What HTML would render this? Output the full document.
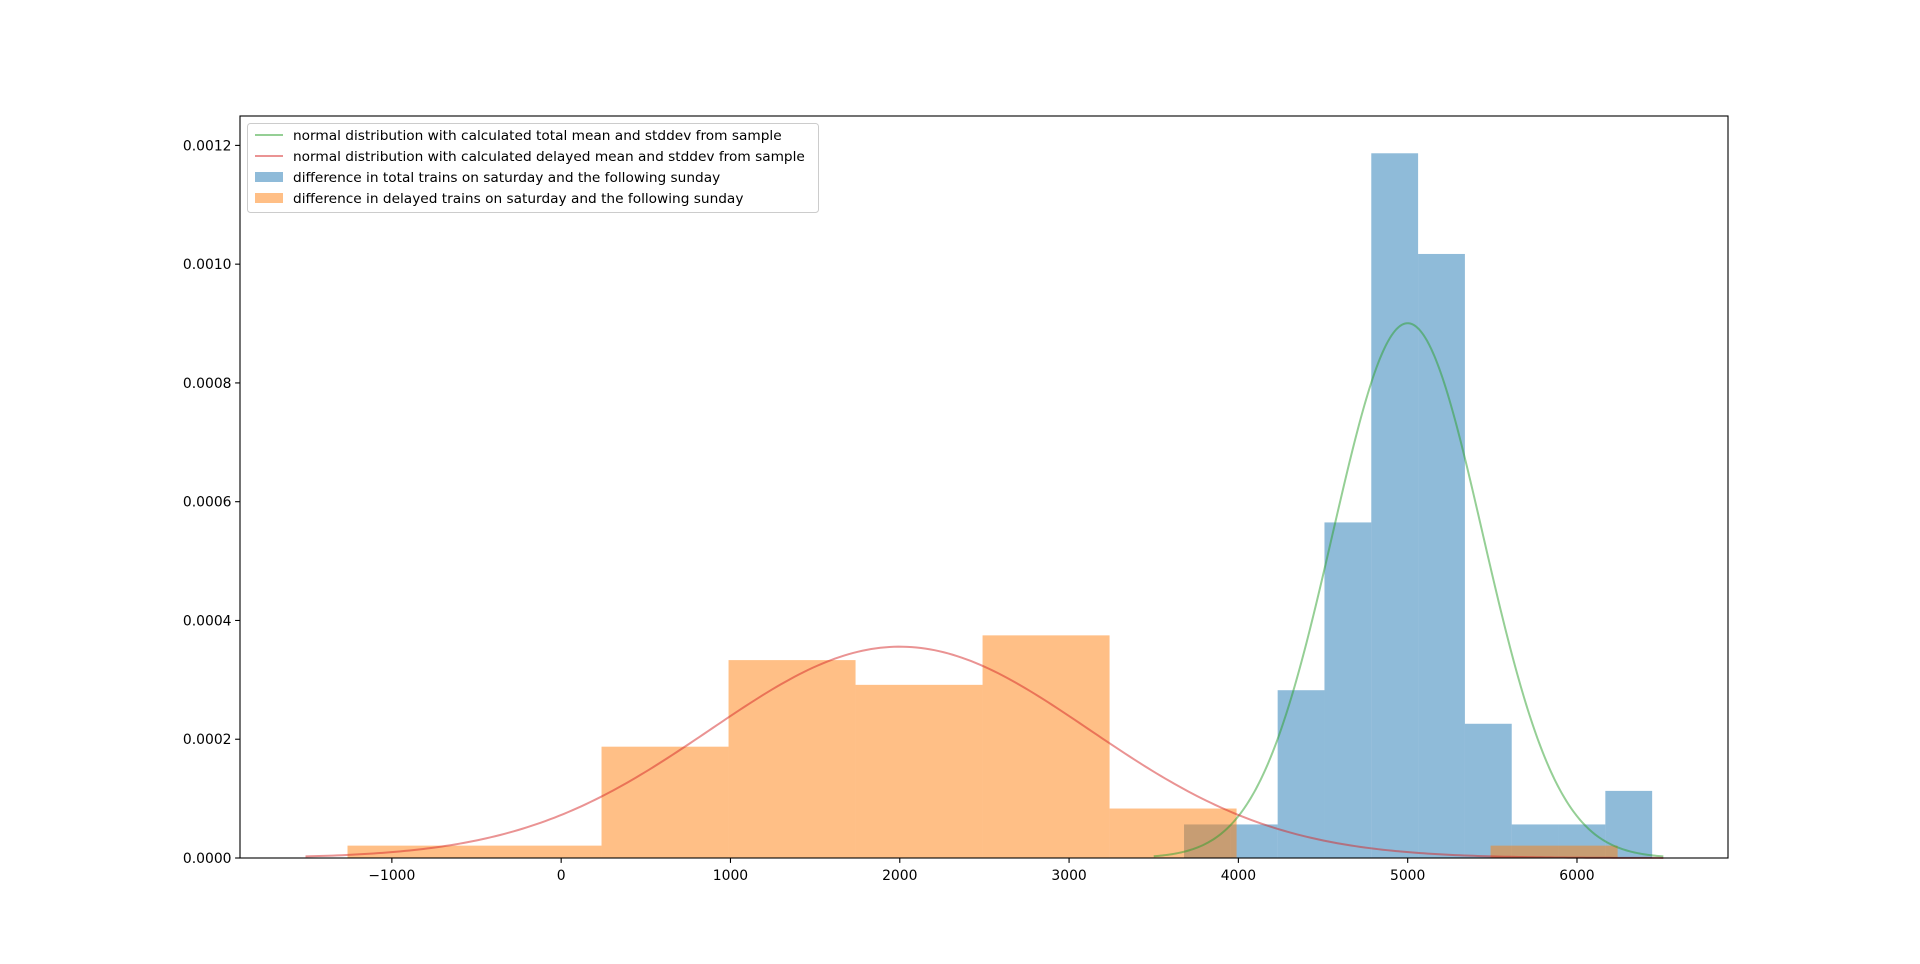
<!DOCTYPE html>
<html><head><meta charset="utf-8"><style>
html,body{margin:0;padding:0;background:#fff;}
svg{display:block;font-family:"DejaVu Sans","Liberation Sans",sans-serif;}
</style></head><body>
<svg id="chart" width="1920" height="964" viewBox="0 0 1920 964" xmlns="http://www.w3.org/2000/svg">
<rect x="0" y="0" width="1920" height="964" fill="#fff"/>
<g id="plot"></g>
</svg>
<script>
const totalBinStart = 3679;
const totalBinWidth = 276.5;
const totalCounts = [1,1,5,10,21,18,4,1,1,2];
const delayedBinStart = -1262;
const delayedBinWidth = 750.2;
const delayedCounts = [1,1,9,16,14,18,4,0,0,1];
const sampleSize = [64];
const totalNormal = [5000, 443];      // mean, stddev
const delayedNormal = [2000, 1121];
const totalCurveRange = [3500, 6510];
const delayedCurveRange = [-1510, 6510];
const xTicks = [-1000,0,1000,2000,3000,4000,5000,6000];
const xTickLabels = ["\u22121000","0","1000","2000","3000","4000","5000","6000"];
const yTicks = [0,0.0002,0.0004,0.0006,0.0008,0.0010,0.0012];
const yTickLabels = ["0.0000","0.0002","0.0004","0.0006","0.0008","0.0010","0.0012"];
const legendLabels = ["normal distribution with calculated total mean and stddev from sample",
"normal distribution with calculated delayed mean and stddev from sample",
"difference in total trains on saturday and the following sunday",
"difference in delayed trains on saturday and the following sunday"];

const L=240,R=1728,T=116,B=858;
const xMin=-1897,xMax=6892,yMin=0,yMax=0.0012495;
const sx=v=>L+(v-xMin)/(xMax-xMin)*(R-L);
const sy=v=>B-(v-yMin)/(yMax-yMin)*(B-T);
const NS="http://www.w3.org/2000/svg";
const g=document.getElementById('plot');
function mk(tag,attrs,parent){const e=document.createElementNS(NS,tag);for(const k in attrs)e.setAttribute(k,attrs[k]);(parent||g).appendChild(e);return e;}

function hist(start,w,counts,color,name){
  const n=sampleSize[0];
  counts.forEach((c,i)=>{
    if(c===0)return;
    const h=c/(n*w);
    const r=mk('rect',{x:sx(start+i*w),y:sy(h),width:sx(start+(i+1)*w)-sx(start+i*w),height:sy(0)-sy(h),fill:color,'fill-opacity':0.5});
    
    
  });
}
hist(totalBinStart,totalBinWidth,totalCounts,'#1f77b4','total');
hist(delayedBinStart,delayedBinWidth,delayedCounts,'#ff7f0e','delayed');

function curve(params,range,color,name){
  const [m,s]=params;let d='';
  const N=300;
  for(let i=0;i<=N;i++){const x=range[0]+(range[1]-range[0])*i/N;
    const y=Math.exp(-0.5*((x-m)/s)**2)/(s*Math.sqrt(2*Math.PI));
    d+=(i?'L':'M')+sx(x).toFixed(2)+','+sy(y).toFixed(2);}
  const p=mk('path',{d:d,fill:'none',stroke:color,'stroke-width':2,'stroke-opacity':0.5});
  
  
}
curve(totalNormal,totalCurveRange,'#2ca02c','total-normal-curve');
curve(delayedNormal,delayedCurveRange,'#d62728','delayed-normal-curve');

const frame=mk('rect',{x:L,y:T,width:R-L,height:B-T,fill:'none',stroke:'#000','stroke-width':1.1});



xTicks.forEach((v,i)=>{
  const x=sx(v);
  mk('line',{x1:x,x2:x,y1:B,y2:B+4.9,stroke:'#000','stroke-width':1.1});
  const t=mk('text',{x:x,y:B+22,'text-anchor':'middle','font-size':'13.9px',fill:'#000'});
  t.textContent=xTickLabels[i];
  
  
});
yTicks.forEach((v,i)=>{
  const y=sy(v);
  mk('line',{x1:L-4.9,x2:L,y1:y,y2:y,stroke:'#000','stroke-width':1.1});
  const t=mk('text',{x:L-8.5,y:y+5,'text-anchor':'end','font-size':'13.9px',fill:'#000'});
  t.textContent=yTickLabels[i];
  
  
});

const lg=mk('g',{});


mk('rect',{x:247.5,y:123.5,width:571,height:89,rx:3,fill:'#fff','fill-opacity':0.8,stroke:'#ccc','stroke-width':1},lg);
const lcolors=['#2ca02c','#d62728','#1f77b4','#ff7f0e'];
const rowY=[135,156,177,198];
legendLabels.forEach((lab,i)=>{
  const y=rowY[i];
  if(i<2){mk('line',{x1:255,x2:283,y1:y,y2:y,stroke:lcolors[i],'stroke-width':2,'stroke-opacity':0.5},lg);}
  else{mk('rect',{x:255,y:y-5,width:28,height:10,fill:lcolors[i],'fill-opacity':0.5},lg);}
  const t=mk('text',{x:293,y:y+5,'font-size':'13.7px',fill:'#000'},lg);
  t.textContent=lab;
  
  
});
</script>
</body></html>
